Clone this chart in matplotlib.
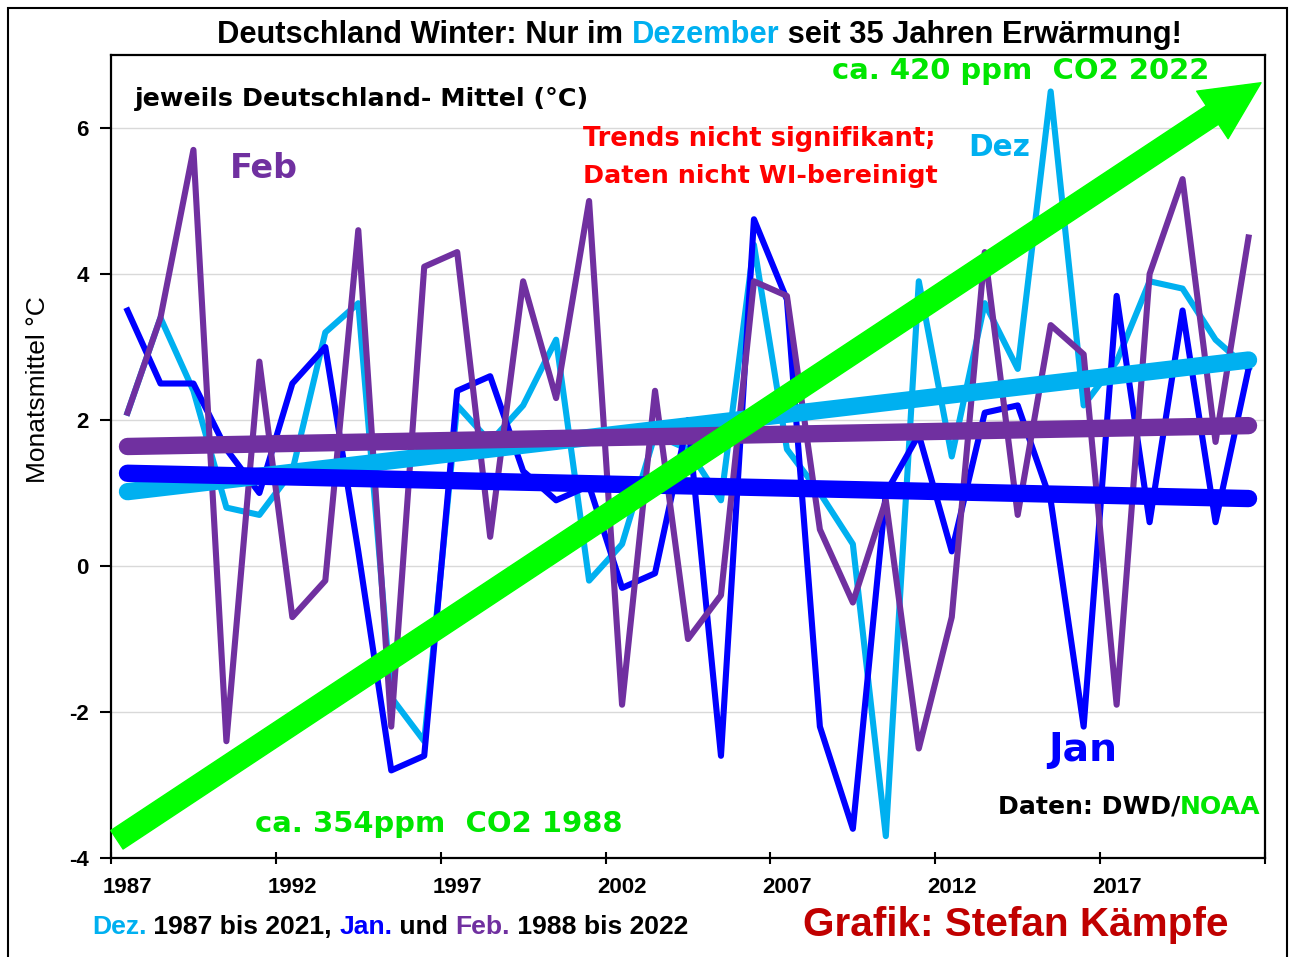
import matplotlib.pyplot as plt
import numpy as np
from matplotlib.patches import Rectangle

# Deutschland-Mittel (°C); Dez 1987-2021, Jan and Feb 1988-2022
dez = [2.1, 3.4, 2.4, 0.8, 0.7, 1.3, 3.2, 3.6, -1.8, -2.4,
       2.2, 1.7, 2.2, 3.1, -0.2, 0.3, 1.8, 1.6, 0.9, 4.4,
       1.6, 1.0, 0.3, -3.7, 3.9, 1.5, 3.6, 2.7, 6.5, 2.2,
       2.8, 3.9, 3.8, 3.1, 2.7]
jan = [3.5, 2.5, 2.5, 1.6, 1.0, 2.5, 3.0, 0.2, -2.8, -2.6,
       2.4, 2.6, 1.3, 0.9, 1.1, -0.3, -0.1, 2.0, -2.6, 4.75,
       3.65, -2.2, -3.6, 1.0, 1.8, 0.2, 2.1, 2.2, 0.9, -2.2,
       3.7, 0.6, 3.5, 0.6, 2.7]
feb = [2.1, 3.4, 5.7, -2.4, 2.8, -0.7, -0.2, 4.6, -2.2, 4.1,
       4.3, 0.4, 3.9, 2.3, 5.0, -1.9, 2.4, -1.0, -0.4, 3.9,
       3.7, 0.5, -0.5, 0.9, -2.5, -0.7, 4.3, 0.7, 3.3, 2.9,
       -1.9, 4.0, 5.3, 1.7, 4.5]
years = list(range(1987, 2022))
tick_years = [1987, 1992, 1997, 2002, 2007, 2012, 2017]

c_dez = '#00B0F0'
c_jan = '#0000FF'
c_feb = '#7030A0'
c_green = '#00FF00'

W, H = 1290, 957
fig = plt.figure(figsize=(W / 100, H / 100), dpi=100)
renderer = fig.canvas.get_renderer()

ax = fig.add_axes([111 / W, 1 - 858 / H, (1265 - 111) / W, (858 - 55) / H])
x = np.arange(len(years))

# monthly series
ax.plot(x, dez, color=c_dez, lw=4.4, zorder=2)
ax.plot(x, jan, color=c_jan, lw=4.4, zorder=2)
ax.plot(x, feb, color=c_feb, lw=4.4, zorder=2)

# linear trends
for vals, col in [(dez, c_dez), (jan, c_jan), (feb, c_feb)]:
    k, d = np.polyfit(x, vals, 1)
    ax.plot([x[0], x[-1]], [k * x[0] + d, k * x[-1] + d], color=col, lw=12.5,
            solid_capstyle='round', zorder=3)

# CO2 arrow (354 ppm 1988 -> 420 ppm 2022)
ax.annotate('', xy=(34.38, 6.62), xytext=(-0.32, -3.75),
            arrowprops=dict(arrowstyle='simple,head_length=4.2,head_width=4.1,tail_width=1.6',
                            mutation_scale=10, color=c_green, shrinkA=0, shrinkB=0),
            annotation_clip=False, zorder=4)

ax.set_xlim(-0.5, len(years) - 0.5)
ax.set_ylim(-4, 7)
ax.set_yticks([-4, -2, 0, 2, 4, 6])
ax.set_yticklabels(['-4', '-2', '0', '2', '4', '6'])
ax.yaxis.grid(True, color='#D9D9D9', lw=1.0)
ax.set_axisbelow(True)

ax.set_xticks(np.arange(-0.5, len(years), 5))
ax.set_xticklabels([])
ax.set_xticks([years.index(y) for y in tick_years], minor=True)
ax.set_xticklabels([str(y) for y in tick_years], minor=True)
ax.tick_params(axis='x', which='major', direction='inout', length=9, width=1.5)
ax.tick_params(axis='x', which='minor', length=0, pad=14, labelsize=16)
ax.tick_params(axis='y', direction='out', length=8, width=1.5, pad=8, labelsize=16)
for lab in ax.get_xticklabels(minor=True) + ax.get_yticklabels():
    lab.set_fontweight('bold')
    lab.set_family('Liberation Sans')
for sp in ax.spines.values():
    sp.set_color('black')
    sp.set_linewidth(1.6)

# outer frame
fig.patches.append(Rectangle((8 / W, -0.01), (1287 - 8) / W, 1 - 8 / H + 0.01,
                             transform=fig.transFigure, fill=False, ec='black', lw=1.5))


def text_w(s, **kw):
    t = fig.text(0, 0, s, **kw)
    w = t.get_window_extent(renderer).width
    t.remove()
    return w


def label(x0, x1, yc, parts, **kw):
    full = ''.join(p for p, c in parts)
    w = text_w(full, fontsize=20, **kw)
    size = 20 * (x1 - x0) / w
    bar = text_w('|', fontsize=size, **kw)
    prefix = ''
    for s, c in parts:
        off = text_w(prefix + '|', fontsize=size, **kw) - bar if prefix else 0
        fig.text((x0 + off) / W, 1 - yc / H, s, color=c, fontsize=size,
                 ha='left', va='center', zorder=10, **kw)
        prefix += s


arial = dict(family='Liberation Sans', fontweight='bold')
wide = dict(family='DejaVu Sans', fontweight='bold')

label(217, 1183, 35, [('Deutschland Winter: Nur im ', 'black'), ('Dezember', c_dez),
                      (' seit 35 Jahren Erwärmung!', 'black')], **arial)
label(92, 688, 927, [('Dez.', c_dez), (' 1987 bis 2021, ', 'black'), ('Jan.', c_jan),
                     (' und ', 'black'), ('Feb.', c_feb), (' 1988 bis 2022', 'black')], **arial)
label(803, 1228, 925, [('Grafik: Stefan Kämpfe', '#C00000')], **arial)

label(135, 590, 99, [('jeweils Deutschland- Mittel (°C)', 'black')], **wide)
label(583, 937, 139, [('Trends nicht signifikant;', '#FF0000')], **wide)
label(583, 937, 176, [('Daten nicht WI-bereinigt', '#FF0000')], **wide)
label(230, 298, 169, [('Feb', c_feb)], **wide)
label(968, 1030, 148, [('Dez', c_dez)], **wide)
label(1048, 1117, 750, [('Jan', c_jan)], **wide)
label(832, 1210, 71, [('ca. 420 ppm  CO2 2022', '#00E600')], **wide)
label(255, 622, 824, [('ca. 354ppm  CO2 1988', '#00E600')], **wide)
label(998, 1260, 807, [('Daten: DWD/', 'black'), ('NOAA', '#00E600')], **wide)

fig.text(38 / W, 1 - 390 / H, 'Monatsmittel °C', rotation=90, ha='center', va='center',
         fontsize=19, family='Liberation Sans')

fig.savefig('out.png', dpi=100, facecolor='white')
